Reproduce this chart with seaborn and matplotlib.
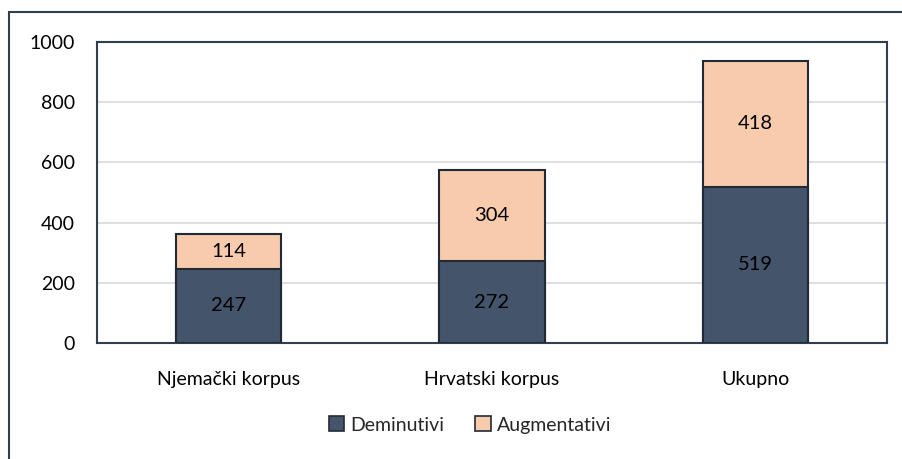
import matplotlib
matplotlib.use("Agg")
import matplotlib.pyplot as plt
import seaborn as sns
import pandas as pd
from matplotlib.patches import Rectangle, Patch

categories = ["Njemački korpus", "Hrvatski korpus", "Ukupno"]
deminutivi = [247, 272, 519]
augmentativi = [114, 304, 418]
yticks = [0, 200, 400, 600, 800, 1000]

dark = "#44546A"
peach = "#F8CBAD"
edge = "#222A35"

sns.set_theme(style="white")
plt.rcParams["font.family"] = ["Lato", "DejaVu Sans"]

df = pd.DataFrame({
    "cat": categories,
    "dem": deminutivi,
    "aug": augmentativi,
})
df["total"] = df["dem"] + df["aug"]

fig = plt.figure(figsize=(9.02, 4.59), dpi=100)
ax = fig.add_axes([97/902, 1-343/459, (887-97)/902, (343-42)/459])

sns.barplot(data=df, x="cat", y="total", color=peach, saturation=1, width=0.4,
            edgecolor=edge, linewidth=1.5, ax=ax, zorder=2)
sns.barplot(data=df, x="cat", y="dem", color=dark, saturation=1, width=0.4,
            edgecolor=edge, linewidth=1.5, ax=ax, zorder=3)

for i, (d, a) in enumerate(zip(deminutivi, augmentativi)):
    ax.text(i, d/2, str(d), ha="center", va="center", fontsize=14.5, color="black", zorder=5)
    ax.text(i, d + a/2, str(a), ha="center", va="center", fontsize=14.5, color="black", zorder=5)

ax.set_ylim(0, 1000)
ax.set_yticks(yticks)
ax.set_xlim(-0.5, 2.5)
ax.set_xlabel("")
ax.set_ylabel("")
ax.tick_params(axis="both", labelsize=14, colors="black", length=0)
ax.tick_params(axis="y", pad=16)
ax.tick_params(axis="x", pad=20)
ax.yaxis.grid(True, color="#D9D9D9", linewidth=1.2, zorder=0)
ax.set_axisbelow(True)
for s in ax.spines.values():
    s.set_visible(True)
    s.set_color("#333F4F")
    s.set_linewidth(1.5)

handles = [Patch(facecolor=dark, edgecolor=edge, linewidth=1.2, label="Deminutivi"),
           Patch(facecolor=peach, edgecolor=edge, linewidth=1.2, label="Augmentativi")]
fig.legend(handles=handles, loc="center", bbox_to_anchor=(470/902, 1-425/459), ncol=2,
           frameon=False, fontsize=14, handlelength=0.8, handleheight=0.8,
           handletextpad=0.3, columnspacing=1.6)

fig.patches.append(Rectangle((9/902, -0.1), 1.2, 1.1 - 12/459, transform=fig.transFigure,
                             fill=False, edgecolor="#333F4F", linewidth=1.5, clip_on=False))

fig.savefig("out.png", dpi=100)
